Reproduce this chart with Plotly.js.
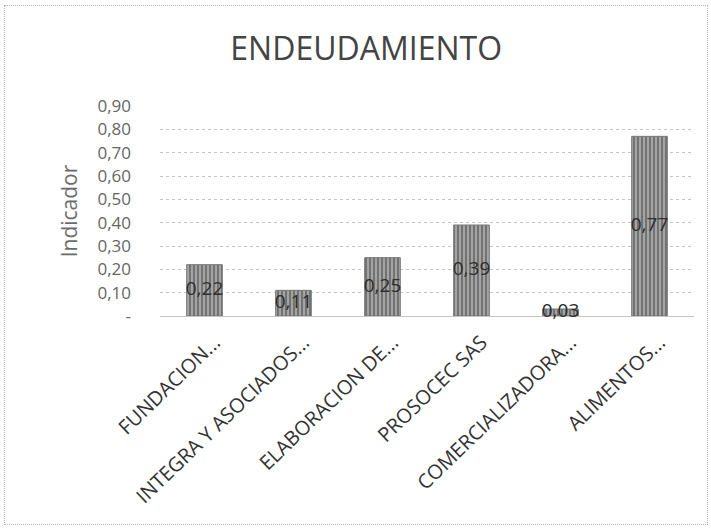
<!DOCTYPE html>
<html>
<head>
<meta charset="utf-8">
<script src="https://cdn.plot.ly/plotly-3.0.1.min.js"></script>
<style>
  html, body { margin: 0; padding: 0; background: #fff; }
  #wrap { position: relative; width: 711px; height: 529px; }
  #chart { position: absolute; left: 0; top: 0; width: 711px; height: 529px; }
  #frame { position: absolute; left: 4px; top: 5px; width: 702px; height: 518px; border: 1px dotted #b5b5b5; pointer-events: none; }
</style>
</head>
<body>
<div id="wrap"><div id="chart"></div><div id="frame"></div></div>
<script>
const categories = ["FUNDACION...", "INTEGRA Y ASOCIADOS...", "ELABORACION DE...", "PROSOCEC SAS", "COMERCIALIZADORA...", "ALIMENTOS..."];
const values = [0.22, 0.11, 0.25, 0.39, 0.03, 0.77];
const valueLabels = ["0,22", "0,11", "0,25", "0,39", "0,03", "0,77"];
const yTickVals = [0, 0.1, 0.2, 0.3, 0.4, 0.5, 0.6, 0.7, 0.8, 0.9];
const yTickText = ["-", "0,10", "0,20", "0,30", "0,40", "0,50", "0,60", "0,70", "0,80", "0,90"];
const titleText = "ENDEUDAMIENTO";
const yTitle = "Indicador";

const bars = {
  type: "bar",
  x: categories,
  y: values,
  marker: {
    color: "#9c9c9c",
    line: { color: "#767676", width: 1 },
    pattern: { shape: "|", fgcolor: "#666666", bgcolor: "#a4a4a4", size: 4, solidity: 0.4 }
  },
  hoverinfo: "none"
};

const labels = {
  type: "scatter",
  mode: "text",
  x: categories,
  y: values.map(v => v / 2),
  text: valueLabels,
  textposition: "middle center",
  textfont: { family: "Open Sans, sans-serif", size: 19, color: "#2e2e2e" },
  hoverinfo: "none",
  cliponaxis: false
};

const layout = {
  width: 711,
  height: 529,
  margin: { l: 160, r: 17, t: 106, b: 213 },
  paper_bgcolor: "rgba(0,0,0,0)",
  plot_bgcolor: "rgba(0,0,0,0)",
  showlegend: false,
  bargap: 0.6,
  separators: ",.",
  title: {
    text: titleText,
    font: { family: "Open Sans, sans-serif", size: 32, color: "#444444" },
    x: 0.515,
    xanchor: "center",
    y: 0.907,
    yanchor: "middle"
  },
  xaxis: {
    type: "category",
    tickangle: -44,
    tickfont: { family: "Open Sans, sans-serif", size: 20, color: "#333333" },
    ticklabelstandoff: 10,
    ticklabelshift: 10,
    showgrid: false,
    showline: false,
    ticks: "",
    zeroline: false
  },
  yaxis: {
    range: [0, 0.9],
    tickvals: yTickVals,
    ticktext: yTickText,
    tickfont: { family: "Open Sans, sans-serif", size: 17, color: "#666666" },
    showgrid: true,
    gridcolor: "#c4c4c4",
    griddash: "dot",
    gridwidth: 1,
    zeroline: true,
    zerolinecolor: "#c4c4c4",
    zerolinewidth: 1,
    showline: false,
    ticks: "",
    ticklabelstandoff: 28,
    title: {
      text: yTitle,
      font: { family: "Open Sans, sans-serif", size: 21, color: "#6b6b6b" },
      standoff: 14
    }
  }
};

Plotly.newPlot("chart", [bars, labels], layout, { displayModeBar: false, staticPlot: true });
</script>
</body>
</html>
